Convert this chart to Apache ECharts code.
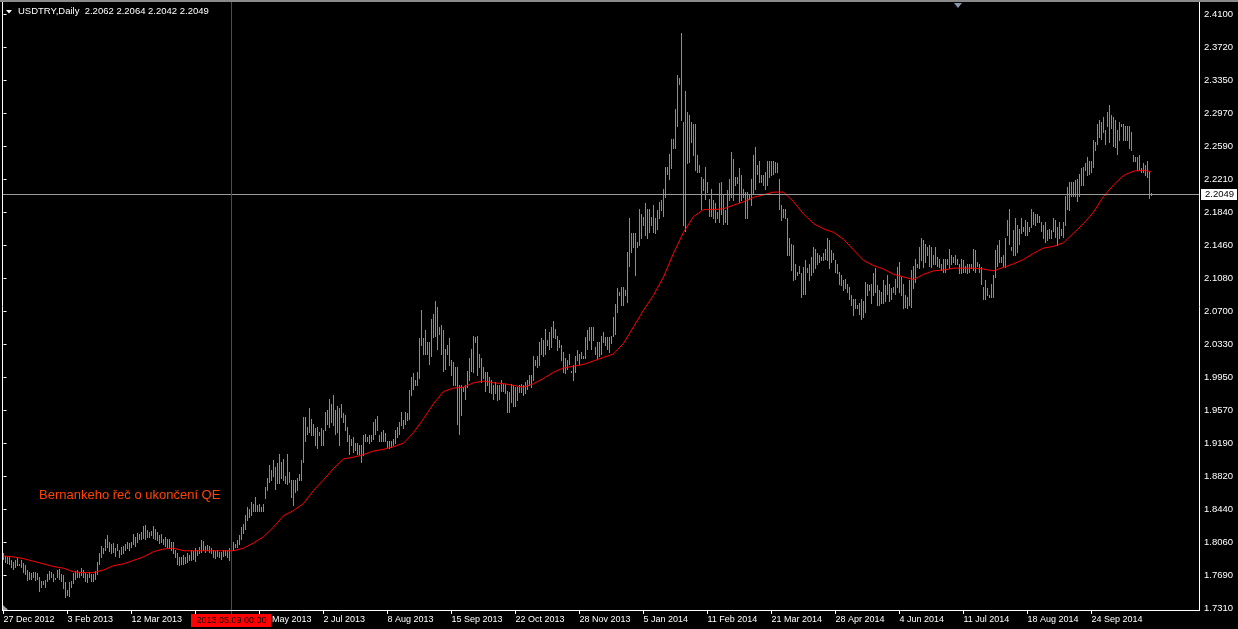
<!DOCTYPE html>
<html><head><meta charset="utf-8">
<script src="https://cdn.jsdelivr.net/npm/echarts@6/dist/echarts.min.js"></script>
<style>html,body{margin:0;padding:0;background:#000;overflow:hidden}#c{width:1238px;height:629px}</style>
</head><body><div id="c"></div>
<script>
const symbolName = 'USDTRY,Daily';
const lastBar = {open: 2.2062, high: 2.2064, low: 2.2042, close: 2.2049};
const noteText = 'Bernankeho řeč o ukončení QE';
const markerBar = 114;
const markerLabel = '2013.05.09 00:00';
const xTickBars = [0,32,64,96,128,160,192,224,256,288,320,352,384,416,448,480,512,544];
const xTickLabels = ['27 Dec 2012','3 Feb 2013','12 Mar 2013','18 Apr 2013','26 May 2013','2 Jul 2013','8 Aug 2013','15 Sep 2013','22 Oct 2013','28 Nov 2013','5 Jan 2014','11 Feb 2014','21 Mar 2014','28 Apr 2014','4 Jun 2014','11 Jul 2014','18 Aug 2014','24 Sep 2014'];
const yTickLabels = ['1.7310','1.7690','1.8060','1.8440','1.8820','1.9190','1.9570','1.9950','2.0330','2.0700','2.1080','2.1460','2.1840','2.2210','2.2590','2.2970','2.3350','2.3720','2.4100'];

const highs = [
1.795,1.791,1.790,1.790,1.786,1.784,1.787,1.790,1.782,1.786,
1.783,1.781,1.775,1.773,1.772,1.773,1.773,1.772,1.767,1.763,
1.762,1.764,1.771,1.774,1.773,1.771,1.766,1.775,1.776,1.771,
1.769,1.761,1.752,1.761,1.763,1.772,1.774,1.775,1.773,1.777,
1.775,1.772,1.771,1.773,1.771,1.770,1.774,1.784,1.794,1.803,
1.800,1.810,1.815,1.807,1.805,1.806,1.800,1.805,1.798,1.801,
1.803,1.805,1.807,1.806,1.807,1.816,1.813,1.817,1.816,1.819,
1.825,1.826,1.821,1.819,1.820,1.825,1.822,1.819,1.815,1.816,
1.811,1.813,1.811,1.811,1.807,1.807,1.798,1.794,1.790,1.790,
1.792,1.790,1.794,1.792,1.798,1.797,1.800,1.798,1.801,1.809,
1.808,1.803,1.804,1.803,1.800,1.798,1.797,1.798,1.796,1.796,
1.798,1.798,1.798,1.800,1.803,1.807,1.805,1.809,1.815,1.824,
1.828,1.838,1.847,1.845,1.853,1.851,1.859,1.849,1.851,1.847,
1.851,1.870,1.880,1.895,1.889,1.901,1.893,1.897,1.908,1.899,
1.902,1.882,1.908,1.887,1.878,1.878,1.878,1.880,1.885,1.901,
1.950,1.950,1.939,1.960,1.948,1.942,1.937,1.939,1.933,1.937,
1.935,1.956,1.958,1.971,1.965,1.975,1.958,1.963,1.960,1.965,
1.954,1.952,1.939,1.929,1.925,1.927,1.920,1.920,1.918,1.918,
1.929,1.930,1.927,1.929,1.929,1.944,1.948,1.951,1.929,1.933,
1.935,1.932,1.922,1.922,1.922,1.925,1.935,1.939,1.944,1.956,
1.946,1.956,1.954,1.981,
1.996,2.000,1.992,2.001,2.040,2.072,2.040,2.049,2.036,2.036,
2.062,2.068,2.083,2.076,2.053,2.055,2.049,2.028,2.032,2.040,
2.015,2.013,2.007,2.007,1.986,1.986,1.984,1.986,2.003,2.017,
2.028,2.043,2.041,2.043,2.022,2.017,2.007,2.001,2.001,1.996,
1.992,1.986,1.990,1.986,1.986,1.992,1.988,1.988,1.980,1.979,
1.988,1.986,1.984,1.984,1.986,1.988,1.986,1.990,1.992,1.998,
1.998,2.020,2.015,2.020,2.036,2.040,2.038,2.051,2.038,2.047,
2.053,2.060,2.051,2.043,2.038,2.032,2.024,2.017,2.015,2.022,
2.003,2.009,2.020,2.026,2.022,2.024,2.020,2.041,2.049,2.053,
2.053,2.053,2.030,2.036,2.036,2.043,2.047,2.041,2.041,2.041,
2.043,2.064,2.079,2.097,2.093,2.099,2.099,2.095,2.139,2.177,
2.160,2.160,2.160,2.150,2.188,2.182,2.179,2.194,2.188,2.188,
2.179,2.192,2.177,2.186,2.196,2.198,2.211,2.236,2.236,2.251,
2.268,2.268,2.302,2.341,2.337,2.389,2.287,2.323,2.299,2.295,
2.287,2.285,2.285,2.249,2.238,2.224,2.222,2.236,2.218,2.199,
2.211,2.198,2.194,2.184,2.217,2.219,2.205,2.186,2.209,2.222,
2.253,2.245,2.224,2.224,2.235,2.226,2.211,2.207,2.207,2.205,
2.222,2.249,2.259,2.238,2.243,2.226,2.227,2.230,2.243,2.243,
2.243,2.243,2.241,2.240,2.222,2.192,2.188,2.188,2.177,2.154,
2.148,2.146,2.125,2.116,2.123,
2.114,2.121,2.129,2.120,2.125,2.133,2.144,2.142,2.137,2.135,
2.133,2.137,2.142,2.154,2.152,2.141,2.137,2.129,2.125,2.116,
2.112,2.106,2.108,2.102,2.099,2.089,2.085,2.085,2.078,2.080,
2.085,2.083,2.104,2.102,2.101,2.102,2.114,2.120,2.101,2.095,
2.093,2.106,2.101,2.112,2.102,2.097,2.099,2.108,2.121,2.127,
2.110,2.102,2.089,2.087,2.106,2.118,2.123,2.131,2.125,2.144,
2.154,2.152,2.148,2.144,2.146,2.144,2.135,2.144,2.133,2.131,
2.125,2.131,2.131,2.131,2.142,2.135,2.133,2.135,2.131,2.125,
2.131,2.129,2.123,2.125,2.125,2.125,2.142,2.141,2.127,2.125,
2.121,2.099,2.106,2.097,2.089,2.102,2.112,2.141,2.146,2.152,
2.133,2.135,2.154,2.175,2.188,2.144,2.164,2.177,2.169,2.165,
2.177,2.167,2.175,2.173,2.167,2.188,2.184,2.182,2.182,2.180,
2.173,2.169,2.173,2.164,2.165,2.164,2.177,2.175,2.167,2.173,
2.165,2.173,2.203,2.213,2.219,2.219,2.219,2.221,2.222,2.228,
2.234,2.236,2.240,2.247,2.242,2.242,2.266,2.264,2.285,2.289,
2.287,2.293,2.278,2.299,2.306,2.295,2.293,2.289,2.278,2.287,
2.285,2.285,2.283,2.283,2.283,2.276,2.249,2.247,2.247,2.249,
2.234,2.240,2.238,2.242,2.230,2.2064
];

const lows = [
1.788,1.784,1.783,1.782,1.779,1.776,1.778,1.781,1.781,1.779,
1.773,1.771,1.764,1.765,1.765,1.767,1.764,1.765,1.751,1.756,
1.759,1.756,1.763,1.765,1.767,1.763,1.765,1.767,1.765,1.763,
1.754,1.744,1.746,1.745,1.756,1.760,1.765,1.767,1.767,1.769,
1.767,1.763,1.761,1.767,1.763,1.763,1.765,1.771,1.782,1.790,
1.794,1.798,1.801,1.797,1.794,1.796,1.791,1.798,1.790,1.793,
1.794,1.798,1.800,1.798,1.801,1.805,1.803,1.807,1.810,1.811,
1.812,1.811,1.813,1.813,1.815,1.812,1.810,1.809,1.806,1.807,
1.805,1.803,1.801,1.800,1.798,1.794,1.790,1.782,1.781,1.782,
1.782,1.783,1.784,1.786,1.786,1.788,1.785,1.792,1.794,1.796,
1.798,1.796,1.798,1.796,1.794,1.790,1.789,1.791,1.790,1.788,
1.791,1.792,1.790,1.786,1.796,1.798,1.801,1.801,1.805,1.811,
1.817,1.822,1.832,1.836,1.838,1.843,1.842,1.842,1.843,1.842,
1.842,1.857,1.866,1.876,1.878,1.882,1.868,1.874,1.874,1.880,
1.878,1.875,1.873,1.876,1.859,1.849,1.864,1.866,1.878,1.878,
1.899,1.923,1.931,1.933,1.929,1.929,1.918,1.914,1.929,1.918,
1.918,1.935,1.942,1.939,1.944,1.941,1.931,1.933,1.918,1.950,
1.944,1.935,1.923,1.908,1.918,1.910,1.912,1.908,1.908,1.899,
1.906,1.923,1.922,1.920,1.922,1.925,1.931,1.935,1.923,1.922,
1.922,1.923,1.916,1.914,1.916,1.918,1.920,1.927,1.931,1.941,
1.937,1.942,1.946,1.948,
1.975,1.982,1.986,1.986,1.995,2.032,2.022,2.022,2.022,2.011,
2.020,2.041,2.043,2.028,2.045,2.022,2.003,2.005,2.022,2.009,
1.998,1.986,1.986,1.942,1.931,1.952,1.980,1.971,1.984,1.992,
2.003,2.001,2.036,1.998,2.007,1.990,1.994,1.980,1.986,1.979,
1.977,1.971,1.977,1.969,1.971,1.980,1.980,1.977,1.956,1.956,
1.967,1.963,1.963,1.969,1.979,1.979,1.975,1.977,1.982,1.986,
1.984,1.992,2.009,2.007,2.009,2.022,2.020,2.022,2.032,2.028,
2.030,2.041,2.040,2.026,2.030,2.015,2.001,2.000,2.005,2.011,
2.001,1.992,2.001,2.015,2.011,2.017,2.017,2.017,2.028,2.038,
2.028,2.038,2.022,2.017,2.020,2.022,2.036,2.032,2.028,2.024,
2.034,2.043,2.045,2.070,2.089,2.078,2.078,2.089,2.081,2.123,
2.139,2.144,2.112,2.144,2.146,2.154,2.169,2.158,2.154,2.161,
2.169,2.161,2.160,2.165,2.177,2.186,2.180,2.201,2.228,2.222,
2.234,2.257,2.257,2.283,2.331,2.289,2.169,2.163,2.240,2.241,
2.264,2.249,2.232,2.230,2.230,2.188,2.209,2.199,2.207,2.180,
2.180,2.177,2.173,2.177,2.173,2.182,2.171,2.173,2.171,2.198,
2.201,2.198,2.215,2.217,2.196,2.198,2.201,2.177,2.177,2.199,
2.192,2.205,2.211,2.228,2.219,2.219,2.215,2.211,2.215,2.224,
2.226,2.228,2.230,2.230,2.188,2.175,2.179,2.177,2.135,2.135,
2.118,2.106,2.108,2.112,2.114,
2.087,2.091,2.091,2.116,2.106,2.112,2.116,2.120,2.125,2.127,
2.129,2.129,2.131,2.129,2.120,2.127,2.131,2.116,2.114,2.102,
2.101,2.095,2.097,2.093,2.085,2.078,2.066,2.074,2.074,2.068,
2.062,2.064,2.070,2.089,2.095,2.080,2.089,2.093,2.078,2.078,
2.080,2.080,2.082,2.091,2.083,2.085,2.093,2.091,2.099,2.093,
2.089,2.074,2.076,2.074,2.078,2.076,2.097,2.104,2.121,2.120,
2.129,2.121,2.127,2.135,2.123,2.121,2.125,2.125,2.123,2.121,
2.118,2.116,2.116,2.125,2.120,2.125,2.127,2.125,2.125,2.114,
2.114,2.116,2.116,2.114,2.116,2.120,2.118,2.116,2.123,2.116,
2.102,2.085,2.085,2.089,2.087,2.087,2.087,2.110,2.123,2.127,
2.127,2.123,2.121,2.158,2.148,2.141,2.135,2.135,2.139,2.148,
2.160,2.162,2.158,2.158,2.162,2.167,2.171,2.169,2.173,2.173,
2.162,2.154,2.150,2.152,2.154,2.154,2.162,2.156,2.146,2.154,
2.158,2.156,2.169,2.188,2.186,2.203,2.203,2.202,2.197,2.202,
2.215,2.215,2.232,2.226,2.228,2.230,2.236,2.255,2.262,2.270,
2.268,2.276,2.262,2.283,2.264,2.280,2.260,2.259,2.251,2.266,
2.283,2.266,2.266,2.266,2.257,2.255,2.243,2.243,2.232,2.232,
2.230,2.230,2.226,2.224,2.200,2.2042
];

// moving average read every 5 bars (bar 0, 5, 10 ... 570), then the last bar
const maEvery5 = [
1.791,1.790,1.788,1.785,1.782,1.779,1.777,1.773,1.772,1.772,
1.775,1.780,1.782,1.786,1.790,1.796,1.799,1.800,1.797,1.797,
1.797,1.797,1.797,1.797,1.800,1.806,1.813,1.824,1.837,1.843,
1.851,1.866,1.878,1.891,1.902,1.904,1.907,1.911,1.913,1.916,
1.920,1.932,1.948,1.965,1.979,1.983,1.984,1.989,1.991,1.989,
1.988,1.986,1.984,1.988,1.994,2.001,2.006,2.008,2.010,2.014,
2.018,2.022,2.034,2.053,2.072,2.089,2.110,2.137,2.161,2.179,
2.187,2.187,2.188,2.192,2.196,2.201,2.204,2.207,2.207,2.196,
2.182,2.171,2.165,2.161,2.153,2.141,2.129,2.123,2.119,2.113,
2.110,2.107,2.113,2.117,2.118,2.120,2.120,2.120,2.119,2.117,
2.121,2.125,2.130,2.137,2.143,2.145,2.149,2.160,2.171,2.184,
2.202,2.215,2.226,2.231,2.232
];
const maLast = 2.230;

const BAR_COLOR = '#32cd32';
const FONT = 'Liberation Sans';
const yMin = 1.7310, yMax = 2.4100;
const yInt = (yMax - yMin) / (yTickLabels.length - 1);
const lastIndex = highs.length - 1;

const barData = highs.map((h, i) => [i, h, lows[i]]);
const maData = maEvery5.map((v, k) => [k * 5, v]).concat([[lastIndex, maLast]]);

function renderBar(params, api) {
  const i = api.value(0);
  const pH = api.coord([i, api.value(1)]);
  const pL = api.coord([i, api.value(2)]);
  const x = Math.floor(pH[0]) + 0.5;
  const y1 = Math.round(Math.min(pH[1], pL[1]));
  let y2 = Math.round(Math.max(pH[1], pL[1])) + 1;
  return {type: 'line', silent: true,
    shape: {x1: x, y1: y1, x2: x, y2: y2},
    style: {stroke: BAR_COLOR, lineWidth: 1}};
}

const chart = echarts.init(document.getElementById('c'), null, {renderer: 'canvas'});
chart.setOption({
  backgroundColor: '#000000',
  animation: false,
  grid: {left: 3.5, right: 39, top: 14.5, bottom: 20.5},
  xAxis: {
    type: 'value', min: 0, max: 597.75, offset: 2.5,
    axisLine: {show: false}, splitLine: {show: false},
    axisTick: {show: true, length: 3, lineStyle: {color: '#ffffff'}, customValues: xTickBars},
    axisLabel: {show: true, customValues: xTickBars, align: 'left', margin: 4,
      color: '#ffffff', fontFamily: FONT, fontSize: 9,
      formatter: v => { const k = xTickBars.indexOf(Math.round(v)); return k >= 0 ? xTickLabels[k] : ''; }}
  },
  yAxis: {
    type: 'value', position: 'right', min: yMin, max: yMax, interval: yInt, scale: true,
    axisLine: {show: false}, splitLine: {show: false},
    axisTick: {show: true, length: 3, lineStyle: {color: '#ffffff'}},
    axisLabel: {show: true, margin: 5, color: '#ffffff', fontFamily: FONT, fontSize: 9.5,
      showMinLabel: true, showMaxLabel: true,
      formatter: v => yTickLabels[Math.round((v - yMin) / yInt)] || ''}
  },
  series: [
    {type: 'custom', renderItem: renderBar, data: barData, clip: true, z: 2, silent: true},
    {type: 'line', data: maData, symbol: 'none', showSymbol: false, silent: true, z: 3,
      lineStyle: {color: '#ff0000', width: 1}}
  ]
});

const bid = lastBar.close;
const bidY = Math.round(chart.convertToPixel({gridIndex: 0}, [0, bid])[1]) + 0.5;
const vx = Math.floor(chart.convertToPixel({gridIndex: 0}, [markerBar, bid])[0]) + 0.5;
const fmt = v => v.toFixed(4);
const titleText = symbolName + '  ' + [lastBar.open, lastBar.high, lastBar.low, lastBar.close].map(fmt).join(' ');

chart.setOption({
  graphic: [
    {type: 'rect', silent: true, z: 50, shape: {x: 0, y: 0, width: 1238, height: 2}, style: {fill: '#8a8a8a'}},
    {type: 'line', silent: true, z: 50, shape: {x1: 2.5, y1: 2, x2: 2.5, y2: 611}, style: {stroke: '#ffffff', lineWidth: 1}},
    {type: 'line', silent: true, z: 50, shape: {x1: 1199.5, y1: 2, x2: 1199.5, y2: 611}, style: {stroke: '#ffffff', lineWidth: 1}},
    {type: 'line', silent: true, z: 50, shape: {x1: 2, y1: 610.5, x2: 1200, y2: 610.5}, style: {stroke: '#ffffff', lineWidth: 1}},
    // bid line and its price box
    {type: 'line', silent: true, z: 40, shape: {x1: 3, y1: bidY, x2: 1199, y2: bidY}, style: {stroke: '#9a9a9a', lineWidth: 1}},
    {type: 'rect', silent: true, z: 60, shape: {x: 1201, y: bidY - 5.5, width: 36, height: 11}, style: {fill: '#ffffff'}},
    {type: 'text', silent: true, z: 61, style: {x: 1205, y: bidY, text: fmt(bid), fill: '#000000', font: '9.5px "Liberation Sans"', textVerticalAlign: 'middle', textAlign: 'left'}},
    // vertical marker line and its date box
    {type: 'line', silent: true, z: 45, shape: {x1: vx, y1: 2, x2: vx, y2: 614}, style: {stroke: '#ff0000', lineWidth: 1}},
    {type: 'rect', silent: true, z: 60, shape: {x: vx - 40.5, y: 614, width: 80, height: 13}, style: {fill: '#ff0000'}},
    {type: 'text', silent: true, z: 61, style: {x: vx, y: 620.5, text: markerLabel, fill: '#000000', font: '9px "Liberation Sans"', textVerticalAlign: 'middle', textAlign: 'center'}},
    // title
    {type: 'polygon', silent: true, z: 60, shape: {points: [[6, 10], [12, 10], [9, 13.5]]}, style: {fill: '#ffffff'}},
    {type: 'text', silent: true, z: 60, style: {x: 18, y: 11.5, text: titleText, fill: '#ffffff', font: '9.5px "Liberation Sans"', textVerticalAlign: 'middle', textAlign: 'left'}},
    // annotation
    {type: 'text', silent: true, z: 60, style: {x: 39, y: 495, text: noteText, fill: '#ff4500', font: '13px "Liberation Sans"', textVerticalAlign: 'middle', textAlign: 'left'}},
    // chart-shift markers
    {type: 'polygon', silent: true, z: 60, shape: {points: [[954, 3], [962, 3], [958, 8]]}, style: {fill: '#8796a8'}},
    {type: 'polygon', silent: true, z: 60, shape: {points: [[3, 605], [3, 610], [8, 610]]}, style: {fill: '#9aa4b0'}}
  ]
});
</script>
</body></html>
